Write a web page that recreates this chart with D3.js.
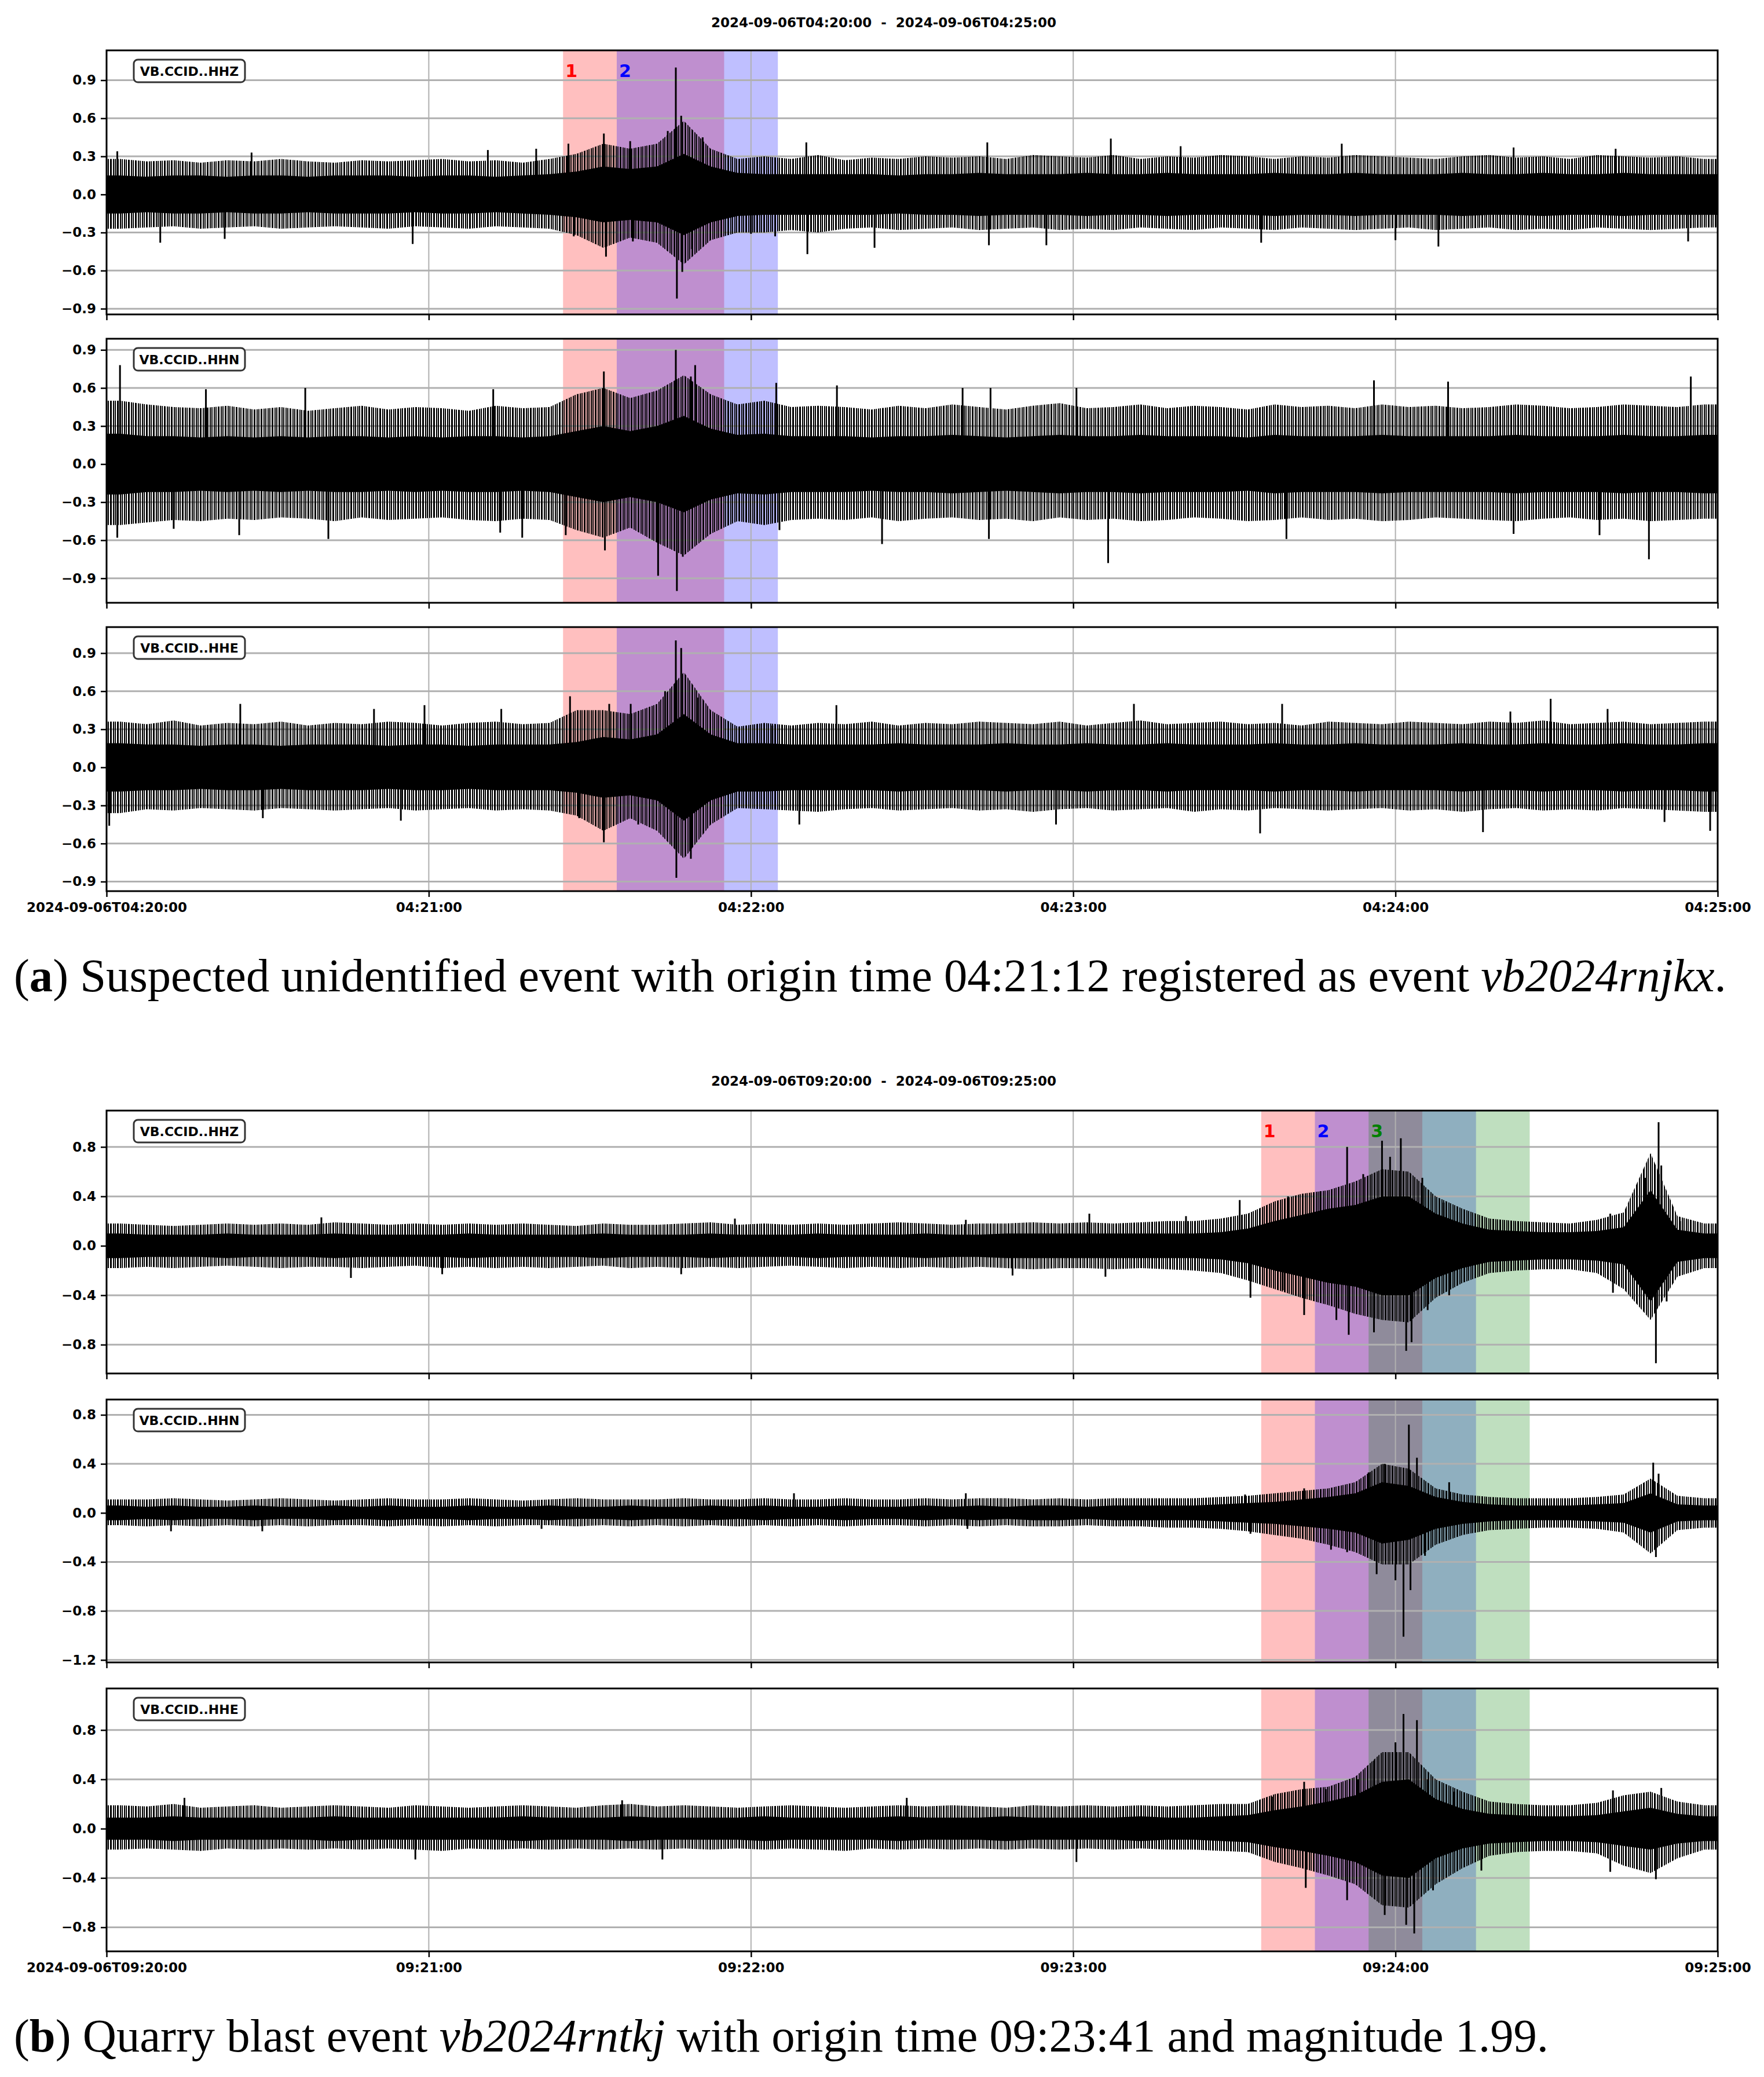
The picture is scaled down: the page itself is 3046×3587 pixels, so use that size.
<!DOCTYPE html>
<html>
<head>
<meta charset="utf-8">
<script src="https://cdn.jsdelivr.net/npm/d3@7"></script>
<style>
  body { margin: 0; background: #fff; }
  text { white-space: pre; }
</style>
</head>
<body>
<svg id="fig" width="3046" height="3587"></svg>
<script>
// ---- data: 5 s bins (60 per 5 min window) ----
// hi / lo = outer edge of the dense spikes, core = half width of the solid band
const hhzA_hi = [0.28,0.26,0.27,0.25,0.27,0.26,0.28,0.26,0.25,0.27,0.26,0.27,0.28,0.26,0.27,0.25,0.28,
  0.32,0.40,0.36,0.40,0.58,0.36,0.28,0.30,0.28,0.31,
  0.27,0.29,0.28,0.30,0.29,0.30,0.28,0.31,0.30,0.29,0.31,0.28,0.30,0.29,0.31,0.30,0.28,0.30,0.29,0.31,0.30,0.29,0.28,0.30,0.31,0.29,0.30,0.28,0.31,0.30,0.29,0.30,0.28];
const hhzA_lo = [-0.27,-0.26,-0.25,-0.27,-0.26,-0.25,-0.27,-0.26,-0.25,-0.26,-0.27,-0.25,-0.26,-0.27,-0.25,-0.26,-0.27,
  -0.32,-0.42,-0.34,-0.38,-0.55,-0.36,-0.30,-0.30,-0.28,-0.30,
  -0.27,-0.26,-0.28,-0.27,-0.26,-0.28,-0.27,-0.26,-0.28,-0.27,-0.28,-0.26,-0.27,-0.28,-0.26,-0.27,-0.28,-0.26,-0.27,-0.28,-0.27,-0.26,-0.28,-0.27,-0.26,-0.28,-0.27,-0.28,-0.26,-0.27,-0.28,-0.27,-0.26];
const hhzA_core = [0.15,0.14,0.15,0.15,0.14,0.15,0.15,0.14,0.15,0.15,0.15,0.14,0.15,0.15,0.14,0.15,0.16,
  0.18,0.22,0.20,0.22,0.32,0.22,0.17,0.16,0.16,0.16,
  0.16,0.16,0.15,0.16,0.16,0.17,0.16,0.16,0.16,0.17,0.16,0.16,0.17,0.16,0.16,0.16,0.17,0.16,0.16,0.17,0.16,0.16,0.16,0.17,0.16,0.16,0.17,0.16,0.16,0.17,0.16,0.16,0.16];
const hhzA_spikes = [[2,0.34],[10,-0.38],[22,-0.35],[27,0.33],[57,-0.39],[71,0.35],[80,0.36],[86,0.40],[87,-0.33],
  [92.6,0.48],[93,-0.49],[97.5,0.42],[98,-0.37],[104.5,0.50],[106,1.0],[106.2,-0.82],[107,0.62],[107.2,-0.61],
  [109,-0.43],[111,0.45],[120,-0.31],[124.5,-0.33],[130.3,0.41],[130.5,-0.47],[143,-0.42],[164,0.41],[164.3,-0.40],
  [175,-0.40],[187,0.44],[200,0.38],[215,-0.38],[230,0.40],[240,-0.36],[248,-0.41],[262,0.37],[281,0.36],[294.5,-0.37]];

const hhnA_hi = [0.50,0.47,0.45,0.44,0.46,0.43,0.45,0.42,0.44,0.46,0.43,0.45,0.44,0.42,0.46,0.44,0.45,
  0.55,0.60,0.52,0.58,0.70,0.55,0.47,0.50,0.45,0.46,
  0.45,0.43,0.46,0.44,0.47,0.45,0.43,0.46,0.48,0.44,0.45,0.47,0.44,0.46,0.45,0.43,0.47,0.45,0.46,0.44,0.47,0.45,0.46,0.44,0.45,0.47,0.46,0.44,0.45,0.47,0.46,0.45,0.47];
const hhnA_lo = [-0.48,-0.46,-0.44,-0.45,-0.43,-0.44,-0.42,-0.43,-0.45,-0.42,-0.44,-0.43,-0.42,-0.44,-0.45,-0.43,-0.44,
  -0.52,-0.58,-0.50,-0.62,-0.72,-0.55,-0.45,-0.48,-0.44,-0.43,
  -0.44,-0.42,-0.45,-0.43,-0.42,-0.44,-0.43,-0.45,-0.42,-0.44,-0.43,-0.45,-0.44,-0.42,-0.43,-0.45,-0.44,-0.42,-0.44,-0.43,-0.45,-0.44,-0.42,-0.43,-0.44,-0.45,-0.43,-0.42,-0.44,-0.43,-0.45,-0.44,-0.43];
const hhnA_core = [0.24,0.22,0.22,0.21,0.22,0.21,0.22,0.21,0.22,0.22,0.21,0.22,0.21,0.22,0.22,0.21,0.22,
  0.26,0.30,0.26,0.30,0.38,0.28,0.23,0.24,0.22,0.22,
  0.22,0.21,0.22,0.22,0.23,0.22,0.21,0.22,0.23,0.22,0.22,0.23,0.22,0.22,0.22,0.21,0.23,0.22,0.22,0.22,0.23,0.22,0.22,0.22,0.22,0.23,0.22,0.22,0.22,0.23,0.22,0.22,0.23];
const hhnA_spikes = [[2.5,0.78],[2,-0.58],[12.5,-0.51],[18.5,0.59],[24.7,-0.56],[37,0.60],[41.3,-0.59],[72,0.59],
  [73.3,-0.54],[77.4,-0.58],[85.5,-0.56],[92.6,0.73],[92.8,-0.68],[102.7,-0.88],[106,0.90],[106.2,-1.0],[107.3,-0.73],
  [108.8,0.69],[109.6,0.78],[124.7,0.64],[125.3,-0.52],[136,0.62],[144.4,-0.63],[159.4,0.60],[164.3,-0.59],[164.6,0.60],
  [180.6,0.60],[186.5,-0.78],[219.7,-0.59],[236,0.66],[249.8,0.65],[262,-0.55],[278,-0.56],[287.2,-0.75],[295,0.69]];

const hheA_hi = [0.36,0.34,0.37,0.33,0.35,0.34,0.36,0.33,0.35,0.34,0.36,0.35,0.33,0.35,0.36,0.34,0.35,
  0.45,0.45,0.42,0.50,0.75,0.45,0.32,0.35,0.33,0.35,
  0.34,0.36,0.33,0.35,0.34,0.36,0.35,0.34,0.36,0.33,0.35,0.37,0.34,0.35,0.36,0.34,0.35,0.33,0.36,0.35,0.34,0.36,0.35,0.34,0.36,0.35,0.37,0.34,0.35,0.36,0.34,0.35,0.36];
const hheA_lo = [-0.36,-0.33,-0.34,-0.32,-0.33,-0.34,-0.32,-0.33,-0.34,-0.33,-0.32,-0.34,-0.33,-0.32,-0.34,-0.33,-0.34,
  -0.38,-0.50,-0.40,-0.50,-0.72,-0.45,-0.32,-0.33,-0.34,-0.35,
  -0.33,-0.32,-0.34,-0.33,-0.32,-0.34,-0.33,-0.35,-0.33,-0.32,-0.34,-0.33,-0.32,-0.35,-0.33,-0.34,-0.32,-0.33,-0.34,-0.33,-0.32,-0.34,-0.33,-0.35,-0.33,-0.32,-0.34,-0.33,-0.34,-0.32,-0.33,-0.34,-0.35];
const hheA_core = [0.19,0.18,0.18,0.17,0.18,0.18,0.17,0.18,0.18,0.18,0.17,0.18,0.18,0.17,0.18,0.18,0.18,
  0.20,0.24,0.22,0.26,0.42,0.26,0.19,0.19,0.18,0.18,
  0.18,0.18,0.19,0.18,0.18,0.18,0.19,0.18,0.18,0.19,0.18,0.18,0.19,0.18,0.18,0.18,0.19,0.18,0.18,0.19,0.18,0.18,0.18,0.19,0.18,0.18,0.19,0.18,0.18,0.19,0.18,0.18,0.19];
const hheA_spikes = [[0.5,-0.46],[24.9,0.50],[29.1,-0.40],[49.8,0.46],[54.8,-0.42],[59.2,0.49],[73.5,0.46],[86.3,0.56],
  [88,-0.40],[92.6,-0.59],[93.6,0.50],[97.6,0.50],[99,-0.45],[104,0.60],[106,1.0],[106.1,-0.87],[107,0.94],[108.8,-0.72],
  [110,0.55],[124,0.33],[129,-0.45],[135.9,0.49],[176.8,-0.45],[191.3,0.50],[214.8,-0.52],[218.9,0.50],[256.3,-0.51],
  [261.4,0.44],[268.9,0.54],[279.5,0.46],[290.1,-0.43],[298.6,-0.50]];

const hhzB_hi = [0.18,0.17,0.16,0.17,0.18,0.17,0.18,0.17,0.19,0.18,0.17,0.18,0.17,0.18,0.17,0.18,0.17,0.16,0.18,0.17,
  0.17,0.18,0.19,0.17,0.18,0.17,0.18,0.17,0.18,0.19,0.18,0.17,0.18,0.18,0.19,0.18,0.19,0.18,0.19,0.20,
  0.20,0.22,0.26,0.36,0.42,0.45,0.52,0.62,0.60,0.40,0.30,0.22,0.20,0.19,0.18,0.21,0.27,0.75,0.24,0.18];
const hhzB_lo = [-0.18,-0.17,-0.18,-0.17,-0.16,-0.17,-0.18,-0.17,-0.17,-0.18,-0.17,-0.16,-0.18,-0.17,-0.18,-0.17,-0.18,-0.17,-0.16,-0.18,
  -0.17,-0.18,-0.17,-0.18,-0.17,-0.16,-0.17,-0.18,-0.17,-0.18,-0.17,-0.18,-0.17,-0.18,-0.19,-0.18,-0.18,-0.19,-0.18,-0.19,
  -0.20,-0.22,-0.28,-0.35,-0.42,-0.48,-0.55,-0.60,-0.62,-0.42,-0.30,-0.22,-0.20,-0.19,-0.19,-0.22,-0.35,-0.60,-0.25,-0.18];
const hhzB_core = [0.10,0.09,0.09,0.09,0.10,0.09,0.09,0.09,0.10,0.09,0.09,0.09,0.09,0.10,0.09,0.09,0.09,0.09,0.10,0.09,
  0.09,0.09,0.10,0.09,0.09,0.09,0.10,0.09,0.09,0.09,0.10,0.09,0.09,0.10,0.10,0.10,0.10,0.10,0.10,0.10,
  0.10,0.11,0.14,0.20,0.25,0.30,0.33,0.40,0.40,0.26,0.18,0.13,0.12,0.11,0.11,0.12,0.15,0.45,0.13,0.10];
const hhzB_spikes = [[40,0.23],[45.5,-0.26],[62.5,-0.23],[107,-0.23],[117,0.22],[160,0.21],[168.7,-0.24],[183,0.26],
  [186,-0.25],[201,0.24],[211,0.37],[213,-0.42],[219,-0.36],[220,0.40],[223,-0.56],[226,0.44],[229,-0.60],[231,0.80],
  [231.3,-0.72],[234,0.58],[236,-0.70],[237.5,0.85],[239,0.72],[241,0.87],[242,-0.85],[243,-0.78],[245,0.55],[246,-0.52],
  [249,0.35],[250,-0.40],[280,0.26],[280.5,-0.38],[286.5,0.55],[288.5,-0.95],[289,1.0],[289.5,0.65],[290.5,-0.45],[293,0.20]];

const hhnB_hi = [0.11,0.11,0.12,0.11,0.10,0.11,0.12,0.11,0.10,0.11,0.12,0.11,0.11,0.12,0.11,0.10,0.11,0.12,0.11,0.11,
  0.11,0.12,0.11,0.11,0.12,0.11,0.11,0.12,0.11,0.11,0.12,0.11,0.12,0.12,0.11,0.12,0.11,0.12,0.12,0.12,
  0.12,0.13,0.14,0.16,0.18,0.20,0.25,0.40,0.36,0.20,0.15,0.13,0.12,0.12,0.12,0.13,0.15,0.28,0.14,0.12];
const hhnB_lo = [-0.10,-0.11,-0.10,-0.11,-0.10,-0.11,-0.10,-0.11,-0.10,-0.10,-0.11,-0.10,-0.11,-0.10,-0.11,-0.10,-0.10,-0.11,-0.10,-0.11,
  -0.10,-0.11,-0.10,-0.11,-0.10,-0.11,-0.10,-0.11,-0.10,-0.10,-0.11,-0.10,-0.11,-0.10,-0.11,-0.11,-0.10,-0.11,-0.11,-0.12,
  -0.12,-0.13,-0.15,-0.18,-0.21,-0.26,-0.32,-0.42,-0.42,-0.26,-0.18,-0.14,-0.13,-0.12,-0.12,-0.13,-0.16,-0.33,-0.14,-0.12];
const hhnB_core = [0.06,0.05,0.06,0.05,0.05,0.06,0.05,0.05,0.06,0.05,0.06,0.05,0.05,0.06,0.05,0.05,0.06,0.05,0.05,0.06,
  0.05,0.05,0.06,0.05,0.06,0.05,0.05,0.06,0.05,0.05,0.06,0.05,0.06,0.05,0.06,0.06,0.05,0.06,0.06,0.06,
  0.06,0.07,0.08,0.09,0.11,0.13,0.16,0.25,0.22,0.13,0.09,0.07,0.06,0.06,0.06,0.07,0.08,0.16,0.07,0.06];
const hhnB_spikes = [[12,-0.15],[29,-0.15],[81,-0.13],[128,0.16],[160,0.16],[160.3,-0.13],[212,0.15],[213,-0.17],
  [223,0.20],[228,-0.30],[231,-0.32],[235,0.33],[236.5,-0.50],[238,0.40],[240,-0.55],[241.5,-1.01],[242.5,0.72],
  [242.8,-0.63],[244,0.45],[245.5,-0.35],[250,0.25],[288,0.41],[288.5,-0.36],[289,0.32]];

const hheB_hi = [0.19,0.18,0.20,0.17,0.18,0.19,0.17,0.18,0.19,0.18,0.17,0.19,0.18,0.17,0.18,0.19,0.18,0.17,0.19,0.20,
  0.18,0.19,0.18,0.17,0.18,0.19,0.18,0.17,0.18,0.19,0.18,0.19,0.18,0.17,0.19,0.18,0.19,0.18,0.19,0.18,
  0.19,0.20,0.20,0.28,0.32,0.34,0.42,0.62,0.62,0.40,0.30,0.22,0.20,0.19,0.19,0.21,0.27,0.30,0.22,0.19];
const hheB_lo = [-0.17,-0.16,-0.17,-0.18,-0.16,-0.17,-0.16,-0.17,-0.16,-0.17,-0.16,-0.17,-0.18,-0.16,-0.17,-0.16,-0.17,-0.16,-0.17,-0.16,
  -0.17,-0.16,-0.17,-0.16,-0.17,-0.16,-0.17,-0.18,-0.16,-0.17,-0.16,-0.17,-0.16,-0.17,-0.16,-0.17,-0.16,-0.17,-0.16,-0.17,
  -0.17,-0.18,-0.19,-0.27,-0.32,-0.38,-0.45,-0.62,-0.64,-0.45,-0.32,-0.22,-0.19,-0.18,-0.18,-0.20,-0.30,-0.36,-0.24,-0.17];
const hheB_core = [0.09,0.09,0.10,0.09,0.09,0.09,0.09,0.09,0.10,0.09,0.09,0.09,0.09,0.09,0.09,0.10,0.09,0.09,0.09,0.10,
  0.09,0.09,0.09,0.09,0.10,0.09,0.09,0.09,0.09,0.10,0.09,0.09,0.09,0.10,0.09,0.09,0.09,0.09,0.10,0.09,
  0.09,0.10,0.11,0.15,0.18,0.22,0.27,0.38,0.40,0.24,0.16,0.12,0.11,0.10,0.10,0.11,0.14,0.17,0.12,0.10];
const hheB_spikes = [[14.5,0.25],[57.5,-0.25],[96,0.23],[103.5,-0.25],[149,0.25],[180.6,-0.27],[217,0.26],[223,0.38],
  [223.3,-0.48],[227,0.32],[231,-0.58],[233,0.40],[236,0.55],[238,-0.70],[240,0.70],[241.5,0.93],[242,-0.78],
  [243.5,-0.85],[244,0.88],[246,0.40],[247,-0.50],[251,0.30],[256,-0.34],[280,-0.35],[280.5,0.31],[288.5,-0.41],[289.5,0.33]];

// picks (seconds after window start) and their colours
const pickLabels = ["1", "2", "3"];
const pickColors = ["red", "blue", "green"];
const picksStartA = [85, 95];
const picksStartB = [215, 225, 235];
const pickLength = 30;

const stations = ["VB.CCID..HHZ", "VB.CCID..HHN", "VB.CCID..HHE"];
const yTicks3 = [-0.9, -0.6, -0.3, 0, 0.3, 0.6, 0.9];
const yTicks4 = [-0.8, -0.4, 0, 0.4, 0.8];
const yTicks4b = [-1.2, -0.8, -0.4, 0, 0.4, 0.8];

const captionA = [["(", ""], ["a", "b"], [") Suspected unidentified event with origin time 04:21:12 registered as event ", ""], ["vb2024rnjkx", "i"], [".", ""]];
const captionB = [["(", ""], ["b", "b"], [") Quarry blast event ", ""], ["vb2024rntkj", "i"], [" with origin time 09:23:41 and magnitude 1.99.", ""]];

// ---- layout ----
const L = 184, R = 2966;
const figs = [
  { t0: Date.UTC(2024, 8, 6, 4, 20, 0), titleY: 47, tops: [87, 585, 1083], h: 456, capY: 1712, caption: captionA,
    picks: picksStartA,
    panels: [
      { hi: hhzA_hi, lo: hhzA_lo, core: hhzA_core, spikes: hhzA_spikes, dom: [-0.945, 1.135], ticks: yTicks3 },
      { hi: hhnA_hi, lo: hhnA_lo, core: hhnA_core, spikes: hhnA_spikes, dom: [-1.093, 0.988], ticks: yTicks3 },
      { hi: hheA_hi, lo: hheA_lo, core: hheA_core, spikes: hheA_spikes, dom: [-0.975, 1.105], ticks: yTicks3 }] },
  { t0: Date.UTC(2024, 8, 6, 9, 20, 0), titleY: 1875, tops: [1918, 2417, 2916], h: 454, capY: 3543, caption: captionB,
    picks: picksStartB,
    panels: [
      { hi: hhzB_hi, lo: hhzB_lo, core: hhzB_core, spikes: hhzB_spikes, dom: [-1.033, 1.094], ticks: yTicks4 },
      { hi: hhnB_hi, lo: hhnB_lo, core: hhnB_core, spikes: hhnB_spikes, dom: [-1.22, 0.925], ticks: yTicks4b },
      { hi: hheB_hi, lo: hheB_lo, core: hheB_core, spikes: hheB_spikes, dom: [-0.995, 1.137], ticks: yTicks4 }] }
];

const svg = d3.select("#fig");
svg.append("rect").attr("width", 3046).attr("height", 3587).attr("fill", "#fff");

// irregular vertical strokes so the outer fringe reads as dense spikes
const defs = svg.append("defs");
const hatch = defs.append("pattern").attr("id", "hatch").attr("patternUnits", "userSpaceOnUse")
  .attr("width", 31).attr("height", 10);
[[0, 2], [4, 3], [9, 2], [12, 2], [16, 3], [21, 2], [24, 2], [28, 2]].forEach(([px, pw]) =>
  hatch.append("rect").attr("x", px).attr("width", pw).attr("height", 10).attr("fill", "#000"));

const tickFont = "DejaVu Sans";
const fullFmt = d3.utcFormat("%Y-%m-%dT%H:%M:%S");
const hmsFmt = d3.utcFormat("%H:%M:%S");
const yFmt = d3.format(".1f");

figs.forEach((fig, fi) => {
  const tEnd = fig.t0 + 300000;
  const x = d3.scaleUtc().domain([fig.t0, tEnd]).range([L, R]);
  const xs = s => x(new Date(fig.t0 + s * 1000));
  const minutes = d3.range(6).map(m => new Date(fig.t0 + m * 60000));

  svg.append("text")
    .attr("x", 1526).attr("y", fig.titleY)
    .attr("text-anchor", "middle")
    .attr("font-family", tickFont).attr("font-weight", "bold").attr("font-size", 23)
    .text(fullFmt(new Date(fig.t0)) + "  -  " + fullFmt(new Date(tEnd)));

  fig.panels.forEach((p, pi) => {
    const top = fig.tops[pi], bot = top + fig.h;
    const y = d3.scaleLinear().domain(p.dom).range([bot, top]);
    const g = svg.append("g");
    const clipId = `clip${fi}${pi}`;
    defs.append("clipPath").attr("id", clipId)
      .append("rect").attr("x", L).attr("y", top).attr("width", R - L).attr("height", fig.h);

    // pick windows
    fig.picks.forEach((s, k) => {
      g.append("rect")
        .attr("x", xs(s)).attr("y", top)
        .attr("width", xs(s + pickLength) - xs(s)).attr("height", fig.h)
        .attr("fill", pickColors[k]).attr("fill-opacity", 0.25);
    });

    // grid
    g.append("g").selectAll("line").data(p.ticks).join("line")
      .attr("x1", L).attr("x2", R).attr("y1", d => y(d)).attr("y2", d => y(d))
      .attr("stroke", "#b0b0b0").attr("stroke-width", 3);
    g.append("g").selectAll("line").data(minutes.slice(1, 5)).join("line")
      .attr("x1", d => x(d)).attr("x2", d => x(d)).attr("y1", top).attr("y2", bot)
      .attr("stroke", "#b0b0b0").attr("stroke-width", 2);

    // waveform envelope
    const pts = p.hi.map((v, i) => ({ s: i * 5 + 2.5, hi: v, lo: p.lo[i], c: p.core[i] }));
    pts.unshift({ ...pts[0], s: 0 });
    pts.push({ ...pts[pts.length - 1], s: 300 });
    const wg = g.append("g").attr("clip-path", `url(#${clipId})`);
    wg.append("path").datum(pts)
      .attr("d", d3.area().x(d => xs(d.s)).y0(d => y(d.lo)).y1(d => y(d.hi)))
      .attr("fill", "url(#hatch)");
    wg.append("path").datum(pts)
      .attr("d", d3.area().x(d => xs(d.s)).y0(d => y(-d.c)).y1(d => y(d.c)))
      .attr("fill", "#000");
    wg.append("g").selectAll("line").data(p.spikes).join("line")
      .attr("x1", d => xs(d[0])).attr("x2", d => xs(d[0]))
      .attr("y1", y(0)).attr("y2", d => y(d[1]))
      .attr("stroke", "#000").attr("stroke-width", 3);

    // frame
    g.append("rect").attr("x", L).attr("y", top).attr("width", R - L).attr("height", fig.h)
      .attr("fill", "none").attr("stroke", "#000").attr("stroke-width", 3);

    // y axis
    g.append("g").attr("transform", `translate(${L},0)`)
      .call(d3.axisLeft(y).tickValues(p.ticks).tickFormat(yFmt).tickSize(10).tickPadding(8))
      .call(a => a.select(".domain").remove())
      .call(a => a.selectAll("line").attr("stroke-width", 2.5))
      .call(a => a.selectAll("text").attr("font-family", tickFont).attr("font-weight", "bold").attr("font-size", 23).attr("fill", "#000"));

    // x axis
    const last = pi === fig.panels.length - 1;
    g.append("g").attr("transform", `translate(0,${bot})`)
      .call(d3.axisBottom(x).tickValues(minutes).tickSize(10).tickPadding(10)
        .tickFormat((d, i) => last ? (i === 0 ? fullFmt(d) : hmsFmt(d)) : ""))
      .call(a => a.select(".domain").remove())
      .call(a => a.selectAll("line").attr("stroke-width", 2.5))
      .call(a => a.selectAll("text").attr("font-family", tickFont).attr("font-weight", "bold").attr("font-size", 23).attr("fill", "#000"));

    // pick numbers on first trace
    if (pi === 0) {
      fig.picks.forEach((s, k) => {
        g.append("text").attr("x", xs(s) + 4).attr("y", top + 46)
          .attr("font-family", tickFont).attr("font-weight", "bold").attr("font-size", 30)
          .attr("fill", pickColors[k]).text(pickLabels[k]);
      });
    }

    // station label
    g.append("rect").attr("x", L + 47).attr("y", top + 16).attr("width", 192).attr("height", 39)
      .attr("rx", 7).attr("fill", "#fff").attr("stroke", "#333").attr("stroke-width", 3);
    g.append("text").attr("x", L + 47 + 96).attr("y", top + 44)
      .attr("text-anchor", "middle")
      .attr("font-family", tickFont).attr("font-size", 22).attr("font-weight", "bold")
      .text(stations[pi]);
  });

  // caption
  const cap = svg.append("text").attr("x", 24).attr("y", fig.capY)
    .attr("font-family", "Liberation Serif").attr("font-size", 74).attr("fill", "#000");
  fig.caption.forEach(([txt, st]) => {
    cap.append("tspan").text(txt)
      .attr("font-weight", st === "b" ? "bold" : null)
      .attr("font-style", st === "i" ? "italic" : null);
  });
});

// scale captions so caption (a) spans the measured width
const caps = svg.selectAll("text").filter(function () { return this.getAttribute("font-family") === "Liberation Serif"; });
const wA = caps.nodes()[0].getComputedTextLength();
const fs = 74 * 2957 / wA;
caps.attr("font-size", fs);
</script>
</body>
</html>
